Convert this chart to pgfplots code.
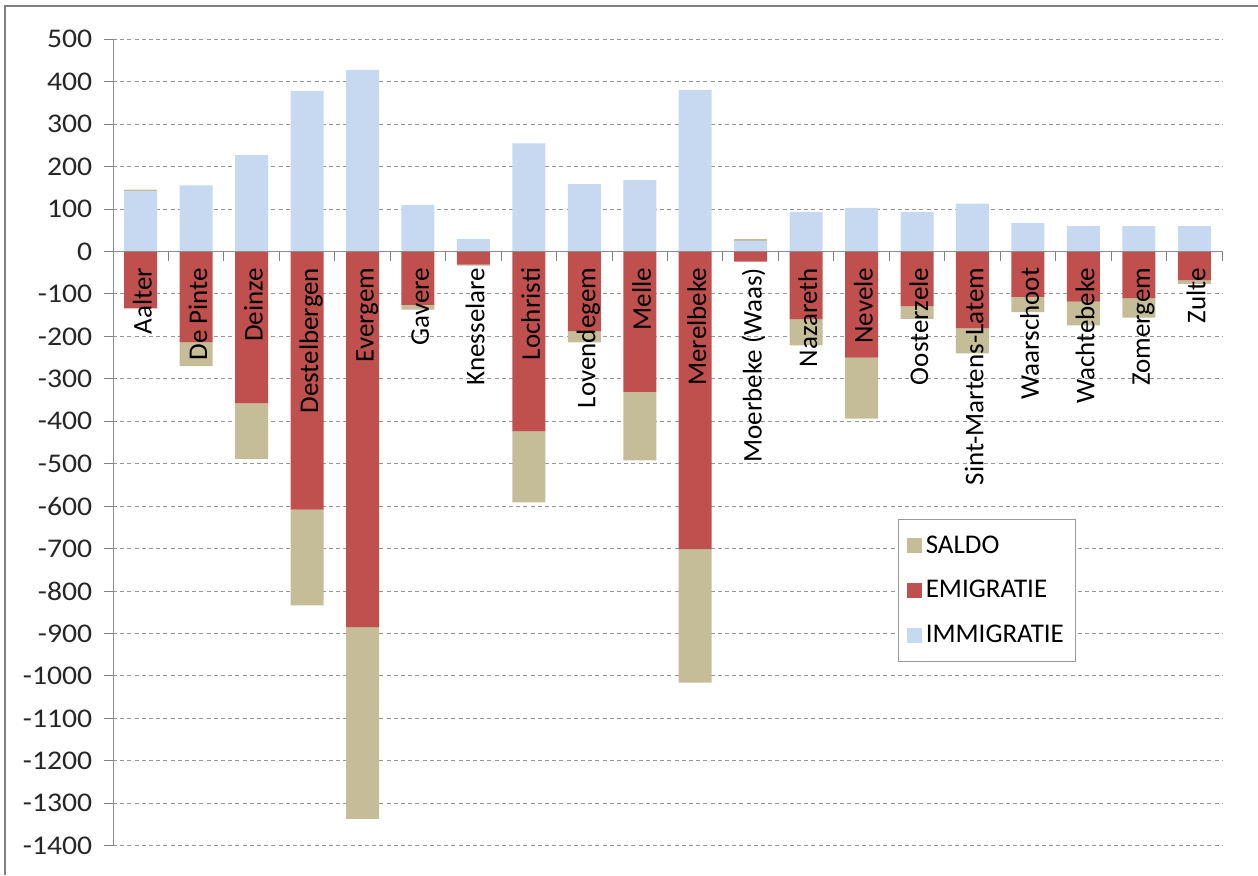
\documentclass[border=0pt]{standalone}
\usepackage{fontspec}
\setmainfont{Carlito}
\usepackage{pgfplots}
\usepackage{pgfplotstable}
\pgfplotsset{compat=1.18}

\definecolor{immi}{RGB}{198,217,241}
\definecolor{emig}{RGB}{192,80,77}
\definecolor{sald}{RGB}{196,189,151}
\definecolor{gridgray}{RGB}{150,150,150}

% x: gemeente, imm: immigratie, salpos/salneg: saldo boven/onder nul, emi: emigratie
\pgfplotstableread{
x imm salpos emi salneg
0  142 4 -134 0
1  156 0 -214 -56
2  227 0 -358 -131
3  378 0 -608 -226
4  428 0 -885 -452
5  110 0 -126 -11
6  29  0 -31  -2
7  255 0 -424 -167
8  159 0 -188 -26
9  168 0 -331 -161
10 381 0 -701 -315
11 25  4 -24  0
12 93  0 -160 -61
13 103 0 -250 -144
14 93  0 -129 -30
15 113 0 -181 -59
16 67  0 -107 -36
17 60  0 -118 -56
18 60  0 -110 -46
19 60  0 -68  -8
}\data

\pgfplotsset{
  base/.style={
    at={(56.5pt,14.65pt)}, anchor=south west,
    scale only axis, width=554.5pt, height=403.2pt,
    xmin=-0.5, xmax=19.5, ymin=-1400, ymax=500,
    ybar stacked, bar width=16.5pt,
    hide obscured x ticks=false, hide obscured y ticks=false,
  },
}

\begin{document}
\begin{tikzpicture}
\useasboundingbox (0,0) rectangle (629pt,437.5pt);
\draw[gray, line width=1pt] (2.5pt,0) -- (2.5pt,434.5pt) -- (629pt,434.5pt);

% raster, y-as en positieve stapel
\begin{axis}[base,
  axis x line=middle, axis y line=left,
  axis line style={draw=gray!90, -},
  ytick={-1400,-1300,...,500},
  ymajorgrids,
  major grid style={gridgray, dash pattern=on 2pt off 1.6pt, line width=0.5pt},
  tick align=outside, major tick length=4.5pt,
  tick style={gray, line width=0.5pt},
  xtick={-0.5,0.5,...,19.5}, xticklabels={},
  yticklabel style={font=\fontsize{13.5}{15}\selectfont, color=black!85,
    xshift=-2pt, xscale=1.1},
  /pgf/number format/assume math mode=true,
  /pgf/number format/1000 sep={},
  scaled y ticks=false,
]
\addplot[fill=immi, draw=none] table[x=x, y=imm] {\data};
\addplot[fill=sald, draw=none] table[x=x, y=salpos] {\data};
\end{axis}

% negatieve stapel, namen en legende
\begin{axis}[base,
  axis on top,
  axis x line=middle, axis y line=none,
  axis line style={draw=gray!90, -},
  xtick=\empty, ytick=\empty,
  extra x ticks={0,1,...,19},
  extra x tick labels={Aalter,De Pinte,Deinze,Destelbergen,Evergem,Gavere,Knesselare,Lochristi,Lovendegem,Melle,Merelbeke,Moerbeke (Waas),Nazareth,Nevele,Oosterzele,Sint-Martens-Latem,Waarschoot,Wachtebeke,Zomergem,Zulte},
  extra x tick style={major tick length=0pt, grid=none},
  xticklabel style={xshift=2pt, yshift=-8pt, rotate=90, anchor=east, inner sep=0pt,
    text height=0.8em, text depth=0.1em,
    font=\fontsize{13.5}{15}\selectfont},
  legend style={at={(0.708,0.405)}, anchor=north west,
    draw=gray!80, line width=0.6pt,
    font=\fontsize{13.5}{15}\selectfont,
    row sep=8pt, inner xsep=4pt, inner ysep=6pt,
    cells={anchor=west}},
  legend image code/.code={\fill[#1] (0pt,-3.75pt) rectangle (7.5pt,3.75pt);},
]
\addplot[fill=emig, draw=none, forget plot] table[x=x, y=emi] {\data};
\addplot[fill=sald, draw=none, forget plot] table[x=x, y=salneg] {\data};
\addlegendimage{fill=sald, draw=none}
\addlegendentry{SALDO}
\addlegendimage{fill=emig, draw=none}
\addlegendentry{EMIGRATIE}
\addlegendimage{fill=immi, draw=none}
\addlegendentry{IMMIGRATIE}
\end{axis}
\end{tikzpicture}
\end{document}
